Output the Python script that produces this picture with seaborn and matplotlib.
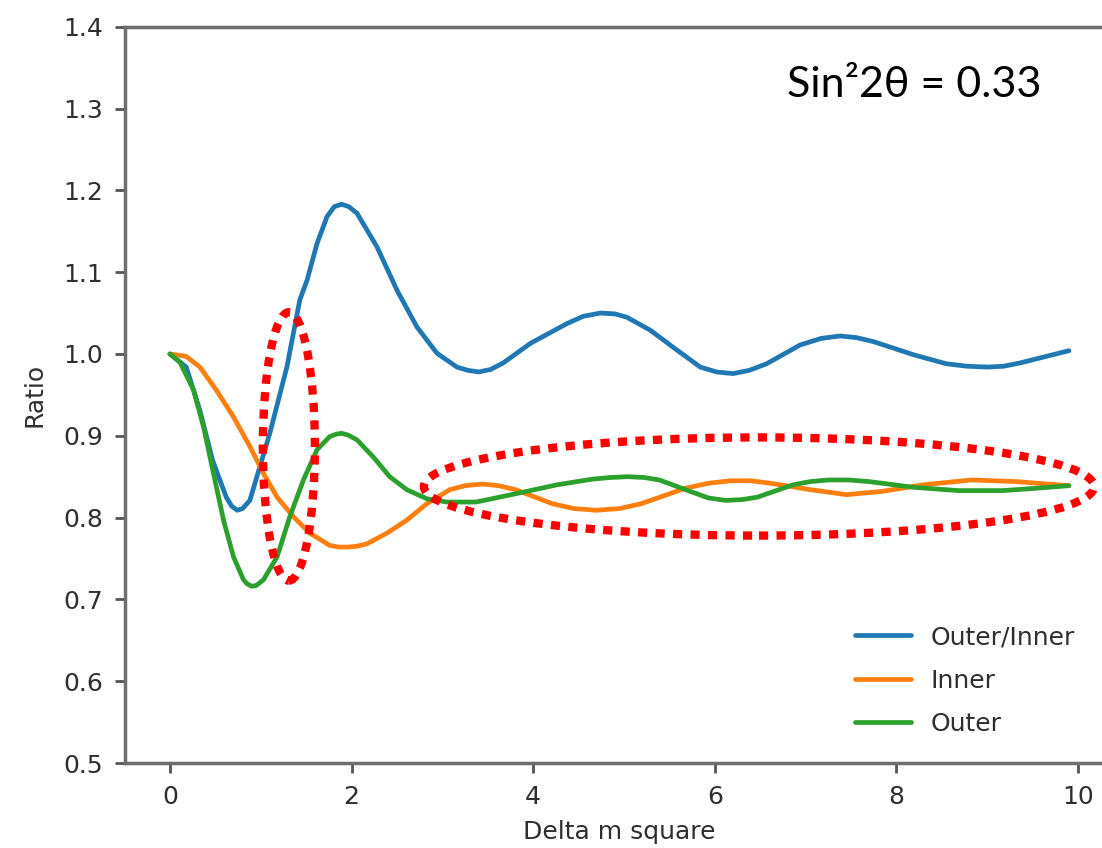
import numpy as np
import pandas as pd
import matplotlib
matplotlib.use("Agg")
import matplotlib.pyplot as plt
from matplotlib.patches import Ellipse
import seaborn as sns

# Oscillation ratios versus delta m^2
series_names = ["Outer/Inner", "Inner", "Outer"]

ratio_x = [0, 0.18, 0.33, 0.47, 0.62, 0.68, 0.74, 0.80, 0.88, 0.99, 1.10, 1.29,
           1.43, 1.51, 1.62, 1.73, 1.81, 1.89, 1.97, 2.06, 2.28, 2.50, 2.72,
           2.94, 3.16, 3.28, 3.40, 3.53, 3.67, 3.97, 4.37, 4.55, 4.74, 4.90,
           5.03, 5.29, 5.58, 5.84, 6.02, 6.20, 6.38, 6.57, 6.94, 7.17, 7.38,
           7.56, 7.75, 8.19, 8.55, 8.78, 9.00, 9.18, 9.36, 9.9]
ratio_y = [1.0, 0.984, 0.931, 0.870, 0.825, 0.814, 0.809, 0.811, 0.821, 0.862,
           0.903, 0.985, 1.066, 1.090, 1.135, 1.168, 1.180, 1.183, 1.180, 1.172,
           1.131, 1.078, 1.033, 1.001, 0.984, 0.980, 0.978, 0.981, 0.989, 1.013,
           1.037, 1.046, 1.050, 1.049, 1.045, 1.029, 1.005, 0.984, 0.978, 0.976,
           0.980, 0.988, 1.011, 1.019, 1.022, 1.020, 1.015, 0.999, 0.988, 0.985,
           0.984, 0.985, 0.989, 1.004]

inner_x = [0, 0.18, 0.33, 0.51, 0.70, 0.88, 1.03, 1.18, 1.36, 1.54, 1.76, 1.86,
           1.96, 2.06, 2.17, 2.39, 2.61, 2.83, 3.08, 3.25, 3.44, 3.62, 3.81,
           4.21, 4.45, 4.70, 4.95, 5.19, 5.68, 5.93, 6.17, 6.40, 6.61, 7.06,
           7.45, 7.84, 8.29, 8.83, 9.32, 9.9]
inner_y = [1.0, 0.997, 0.984, 0.956, 0.923, 0.887, 0.854, 0.825, 0.801, 0.781,
           0.766, 0.764, 0.764, 0.765, 0.768, 0.781, 0.797, 0.817, 0.834, 0.839,
           0.841, 0.839, 0.834, 0.817, 0.811, 0.809, 0.811, 0.817, 0.836, 0.842,
           0.845, 0.845, 0.842, 0.834, 0.828, 0.832, 0.840, 0.846, 0.844, 0.839]

outer_x = [0, 0.11, 0.26, 0.37, 0.48, 0.59, 0.70, 0.81, 0.85, 0.90, 0.95, 1.03,
           1.18, 1.32, 1.47, 1.62, 1.76, 1.83, 1.89, 1.96, 2.06, 2.24, 2.42,
           2.61, 2.83, 3.05, 3.37, 3.76, 4.26, 4.65, 4.85, 5.04, 5.22, 5.39,
           5.73, 5.93, 6.12, 6.30, 6.47, 6.86, 7.05, 7.25, 7.47, 7.70, 8.19,
           8.68, 9.17, 9.56, 9.9]
outer_y = [1.0, 0.990, 0.956, 0.911, 0.854, 0.797, 0.752, 0.724, 0.719, 0.716,
           0.717, 0.724, 0.752, 0.801, 0.846, 0.883, 0.899, 0.902, 0.903, 0.901,
           0.895, 0.874, 0.850, 0.834, 0.823, 0.819, 0.819, 0.828, 0.840, 0.847,
           0.849, 0.850, 0.849, 0.846, 0.832, 0.824, 0.821, 0.822, 0.825, 0.840,
           0.844, 0.846, 0.846, 0.844, 0.837, 0.833, 0.833, 0.836, 0.839]

y_ticks = [0.5, 0.6, 0.7, 0.8, 0.9, 1.0, 1.1, 1.2, 1.3, 1.4]
x_ticks = [0, 2, 4, 6, 8, 10]

df = pd.concat([
    pd.DataFrame({"dm2": ratio_x, "ratio": ratio_y, "series": series_names[0]}),
    pd.DataFrame({"dm2": inner_x, "ratio": inner_y, "series": series_names[1]}),
    pd.DataFrame({"dm2": outer_x, "ratio": outer_y, "series": series_names[2]}),
], ignore_index=True)

sns.set_style("ticks")
plt.rcParams["font.family"] = ["DejaVu Sans"]

fig = plt.figure(figsize=(11.02, 8.48), dpi=100)
ax = fig.add_axes([0.1134, 0.1002, 0.8974, 0.8683])

palette = ["#1f77b4", "#ff7f0e", "#2ca02c"]
sns.lineplot(data=df, x="dm2", y="ratio", hue="series", hue_order=series_names,
             palette=palette, linewidth=3.4, estimator=None, ax=ax)
for line in ax.lines:
    line.set_solid_joinstyle("round")
    line.set_solid_capstyle("round")

ax.set_xlim(-0.495, 10.395)
ax.set_ylim(0.5, 1.4)
ax.set_xticks(x_ticks)
ax.set_yticks(y_ticks)
ax.set_yticklabels([f"{v:.1f}" for v in y_ticks])
ax.set_xlabel("Delta m square", fontsize=18, color="#2e2e2e", labelpad=8)
ax.set_ylabel("Ratio", fontsize=18, color="#2e2e2e", labelpad=12)
ax.tick_params(axis="both", labelsize=18, length=7.5, width=2, colors="#555555",
               labelcolor="#2e2e2e", pad=8)
for side in ["left", "bottom", "top"]:
    ax.spines[side].set_visible(True)
    ax.spines[side].set_linewidth(2.5)
    ax.spines[side].set_color("#6e6e6e")
ax.spines["right"].set_visible(False)

handles, labels = ax.get_legend_handles_labels()
for h in handles:
    h.set_linewidth(3.4)
ax.legend(handles, labels, loc="lower right", bbox_to_anchor=(0.983, 0.006),
          frameon=False, fontsize=18, handlelength=2.25, handletextpad=0.75,
          labelspacing=0.78, labelcolor="#2e2e2e")

# dotted highlight ellipses
ax.add_patch(Ellipse((1.31, 0.887), 0.573, 0.328, fill=False, edgecolor="red",
                     linewidth=6, linestyle=(0, (1.1, 1.0)), clip_on=False, zorder=5))
ax.add_patch(Ellipse((6.487, 0.838), 7.38, 0.120, fill=False, edgecolor="red",
                     linewidth=6, linestyle=(0, (1.1, 1.0)), clip_on=False, zorder=5))

fig.text(787 / 1102, 1 - 96.7 / 848, "Sin\u00b22\u03b8 = 0.33", fontsize=31,
         family=["Lato", "DejaVu Sans"], color="black", ha="left", va="baseline")

fig.savefig("out.png", dpi=100)
